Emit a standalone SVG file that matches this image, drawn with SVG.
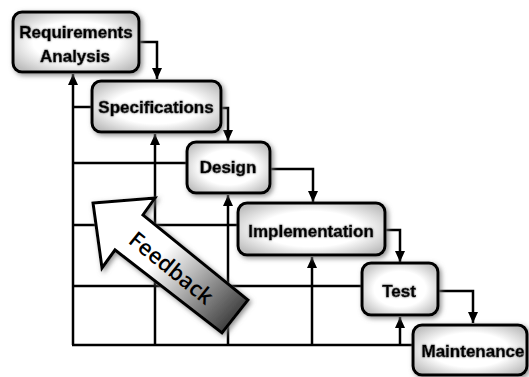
<svg xmlns="http://www.w3.org/2000/svg" width="529" height="377" viewBox="0 0 529 377">
<defs>
<style>
.box{fill:url(#boxfill);stroke:#000;stroke-width:3;filter:url(#shadow)}
.lbl{font-family:"Liberation Sans",Arial,sans-serif;font-weight:bold;font-size:17px;fill:#000;stroke:#000;stroke-width:0.5;text-anchor:middle;filter:url(#glow)}
.ln{fill:none;stroke:#000;stroke-width:2.5}
.fb{font-family:"Open Sans","DejaVu Sans",sans-serif;font-weight:600;font-size:22px;fill:#000;text-anchor:middle;dominant-baseline:central}
</style>
<radialGradient id="boxfill" cx="50%" cy="50%" r="62%">
<stop offset="0.55" stop-color="#ffffff"/>
<stop offset="1" stop-color="#bdbdbd"/>
</radialGradient>
<linearGradient id="fbfill" gradientUnits="userSpaceOnUse" x1="165" y1="250" x2="238" y2="318">
<stop offset="0" stop-color="#ffffff"/>
<stop offset="1" stop-color="#3c3c3c"/>
</linearGradient>
<filter id="shadow" x="-20%" y="-20%" width="140%" height="140%">
<feGaussianBlur in="SourceAlpha" stdDeviation="2.5"/>
<feOffset dx="2" dy="2" result="b"/>
<feFlood flood-color="#777" flood-opacity="0.8"/>
<feComposite in2="b" operator="in" result="s"/>
<feMerge><feMergeNode in="s"/><feMergeNode in="SourceGraphic"/></feMerge>
</filter>
<filter id="glow" x="-20%" y="-40%" width="140%" height="180%">
<feGaussianBlur in="SourceAlpha" stdDeviation="1.5"/>
<feFlood flood-color="#888" flood-opacity="0.9"/>
<feComposite operator="in" in2="SourceAlpha" result="x"/>
<feGaussianBlur in="x" stdDeviation="1.2" result="g"/>
<feMerge><feMergeNode in="g"/><feMergeNode in="SourceGraphic"/></feMerge>
</filter>
<marker id="ah" markerUnits="userSpaceOnUse" markerWidth="12" markerHeight="12" viewBox="0 0 12 12" refX="11" refY="6" orient="auto">
<path d="M0,1 L11,6 L0,11 z" fill="#000"/>
</marker>
</defs>
<rect width="529" height="377" fill="#fff"/>

<g id="connectors">
<path class="ln" d="M139,42 H157 V79" marker-end="url(#ah)"/>
<path class="ln" d="M221,108 H228 V141" marker-end="url(#ah)"/>
<path class="ln" d="M270,169 H313 V202" marker-end="url(#ah)"/>
<path class="ln" d="M385,230 H400 V262" marker-end="url(#ah)"/>
<path class="ln" d="M438,291 H473 V323" marker-end="url(#ah)"/>
<path class="ln" d="M413,345 H72"/>
<path class="ln" d="M73,345 V74" marker-end="url(#ah)"/>
<path class="ln" d="M73,107 H92"/>
<path class="ln" d="M73,163 H187"/>
<path class="ln" d="M73,225 H238"/>
<path class="ln" d="M73,286 H362"/>
<path class="ln" d="M155,345 V134" marker-end="url(#ah)"/>
<path class="ln" d="M228,345 V195" marker-end="url(#ah)"/>
<path class="ln" d="M312,345 V257" marker-end="url(#ah)"/>
<path class="ln" d="M400,345 V317" marker-end="url(#ah)"/>
</g>

<g id="req">
<rect class="box" x="13" y="12" width="126" height="60" rx="9"/>
<text class="lbl" x="76" y="38">Requirements</text>
<text class="lbl" x="75" y="62">Analysis</text>
</g>
<g id="spec">
<rect class="box" x="92" y="81" width="129" height="51" rx="9"/>
<text class="lbl" x="156" y="113">Specifications</text>
</g>
<g id="design">
<rect class="box" x="187" y="142" width="83" height="51" rx="9"/>
<text class="lbl" x="228" y="173">Design</text>
</g>
<g id="impl">
<rect class="box" x="238" y="203" width="147" height="52" rx="9"/>
<text class="lbl" x="311" y="237">Implementation</text>
</g>
<g id="test">
<rect class="box" x="362" y="263" width="76" height="52" rx="9"/>
<text class="lbl" x="399" y="297">Test</text>
</g>
<g id="maint">
<rect class="box" x="413" y="325" width="114" height="50" rx="9"/>
<text class="lbl" x="473" y="357">Maintenance</text>
</g>

<g id="feedback">
<polygon points="93,203 155,198 143,215 248,300 222,333 115,250 102,268" fill="url(#fbfill)" stroke="#000" stroke-width="3" stroke-linejoin="miter" filter="url(#shadow)"/>
<text class="fb" x="172" y="267" transform="rotate(39 172 267)">Feedback</text>
</g>
</svg>
